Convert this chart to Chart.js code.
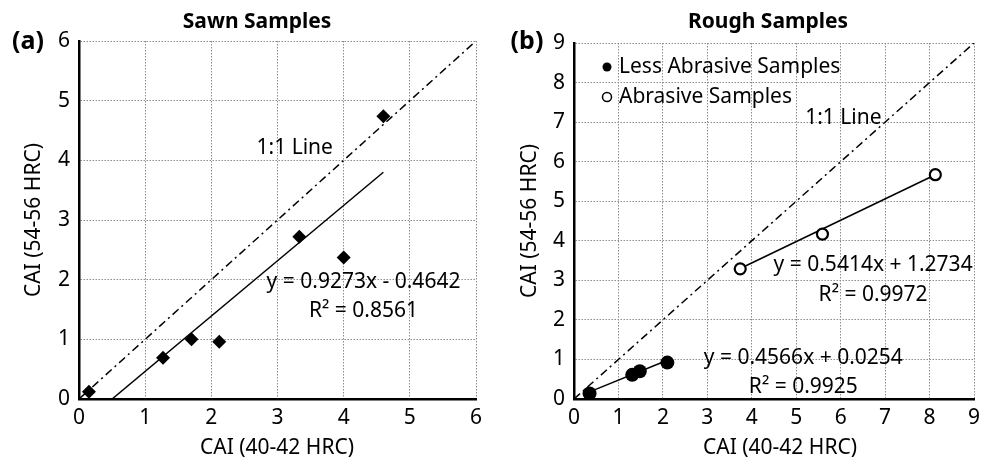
<!DOCTYPE html>
<html>
<head>
<meta charset="utf-8">
<script src="https://cdn.jsdelivr.net/npm/chart.js@4.4.0/dist/chart.umd.min.js"></script>
<style>
  html, body { margin: 0; padding: 0; background: #fff; }
  .wrap { display: flex; width: 990px; height: 461px; }
  .box { position: relative; width: 495px; height: 461px; }
</style>
</head>
<body>
<div class="wrap">
  <div class="box"><canvas id="sawnChart"></canvas></div>
  <div class="box"><canvas id="roughChart"></canvas></div>
</div>
<script>
// (a) sawn samples
const sawnX = [0.15, 1.27, 1.70, 2.12, 3.33, 4.00, 4.60];
const sawnY = [0.12, 0.69, 1.00, 0.96, 2.72, 2.37, 4.74];
const sawnFitX = [0.50, 4.60];
const sawnFitY = [0.00, 3.80];
const sawnDiag = [0, 6];

// (b) rough samples
const lessX = [0.35, 1.31, 1.48, 2.10];
const lessY = [0.14, 0.61, 0.70, 0.92];
const lessFitX = [0.35, 2.10];
const lessFitY = [0.18, 0.98];
const abrX = [3.74, 5.59, 8.13];
const abrY = [3.29, 4.17, 5.67];
const abrFitX = [3.74, 8.13];
const abrFitY = [3.30, 5.67];
const roughDiag = [0, 9];

// axis ranges
const sawnRange = [0, 6];
const roughRange = [0, 9];

const FONT = '"Noto Sans", "Open Sans", sans-serif';
const toPts = (xs, ys) => xs.map((v, i) => ({ x: v, y: ys[i] }));

// 텍스트/주석 그리기
const textPlugin = {
    id: 'textPlugin',
    afterDraw(chart, args, opts) {
        const ctx = chart.ctx;
        const sx = chart.scales.x, sy = chart.scales.y;
        const area = chart.chartArea;
        ctx.save();
        ctx.fillStyle = '#000';
        ctx.textAlign = 'center';
        ctx.textBaseline = 'middle';

        ctx.font = 'bold 21px ' + FONT;
        ctx.fillText(opts.title, opts.titleX, 22);
        ctx.font = 'bold 25px ' + FONT;
        ctx.fillText(opts.tag, opts.tagX, 42);

        ctx.font = '21px ' + FONT;
        ctx.fillText('CAI (40-42 HRC)', opts.xTitleX, 448);
        ctx.save();
        ctx.translate(opts.yTitleX, (area.top + area.bottom) / 2);
        ctx.rotate(-Math.PI / 2);
        ctx.fillText('CAI (54-56 HRC)', 0, 0);
        ctx.restore();

        opts.notes.forEach(n => {
            ctx.fillText(n.text, sx.getPixelForValue(n.x), sy.getPixelForValue(n.y));
        });

        if (opts.legend) {
            ctx.textAlign = 'left';
            opts.legend.forEach((item, i) => {
                const y = 67 + i * 30;
                ctx.beginPath();
                ctx.arc(112, y, 4.5, 0, Math.PI * 2);
                if (item.filled) {
                    ctx.fill();
                } else {
                    ctx.lineWidth = 1.5;
                    ctx.strokeStyle = '#000';
                    ctx.stroke();
                }
                ctx.fillText(item.text, 124, y);
            });
        }
        ctx.restore();
    }
};

function axis(range, isY) {
    return {
        type: 'linear',
        min: range[0],
        max: range[1],
        afterFit: (scale) => {
            if (isY) scale.width = 79; else scale.height = 62;
        },
        ticks: {
            stepSize: 1,
            color: '#000',
            font: { family: FONT, size: 21 },
            padding: isY ? 9 : 6,
        },
        grid: {
            color: '#8c8c8c',
            lineWidth: 1,
            drawTicks: false,
        },
        border: {
            display: true,
            color: '#000',
            width: 2.5,
            dash: [1.5, 1.5],
        },
    };
}

function lineSet(xs, ys, dash) {
    return {
        data: toPts(xs, ys),
        showLine: true,
        borderColor: '#000',
        borderWidth: 1.5,
        borderDash: dash || [],
        pointRadius: 0,
        fill: false,
    };
}

function renderChart(canvasId, datasets, range, padRight, padTop, textOpts) {
    new Chart(document.getElementById(canvasId), {
        type: 'scatter',
        data: { datasets: datasets },
        options: {
            responsive: true,
            maintainAspectRatio: false,
            animation: false,
            layout: { padding: { top: padTop, right: padRight, left: 0, bottom: 0 } },
            scales: { x: axis(range, false), y: axis(range, true) },
            plugins: {
                legend: { display: false },
                tooltip: { enabled: false },
                textPlugin: textOpts,
            },
        },
        plugins: [textPlugin],
    });
}

renderChart('sawnChart', [
    {
        data: toPts(sawnX, sawnY),
        pointStyle: 'rectRot',
        pointRadius: 7,
        backgroundColor: '#000',
        borderColor: '#000',
        borderWidth: 0,
    },
    lineSet(sawnFitX, sawnFitY),
    lineSet(sawnDiag, sawnDiag, [8, 4, 2, 4]),
], sawnRange, 19, 41, {
    title: 'Sawn Samples', titleX: 257,
    tag: '(a)', tagX: 28,
    xTitleX: 277, yTitleX: 34,
    notes: [
        { text: '1:1 Line', x: 3.26, y: 4.2 },
        { text: 'y = 0.9273x - 0.4642', x: 4.3, y: 1.96 },
        { text: 'R² = 0.8561', x: 4.3, y: 1.47 },
    ],
});

renderChart('roughChart', [
    {
        data: toPts(lessX, lessY),
        pointStyle: 'circle',
        pointRadius: 7,
        backgroundColor: '#000',
        borderColor: '#000',
        borderWidth: 0,
    },
    {
        data: toPts(abrX, abrY),
        pointStyle: 'circle',
        pointRadius: 5.5,
        backgroundColor: '#fff',
        borderColor: '#000',
        borderWidth: 2.2,
    },
    lineSet(lessFitX, lessFitY),
    lineSet(abrFitX, abrFitY),
    lineSet(roughDiag, roughDiag, [8, 4, 2, 4]),
], roughRange, 16, 43, {
    title: 'Rough Samples', titleX: 273,
    tag: '(b)', tagX: 32,
    xTitleX: 285, yTitleX: 35,
    notes: [
        { text: '1:1 Line', x: 6.06, y: 7.1 },
        { text: 'y = 0.5414x + 1.2734', x: 6.73, y: 3.38 },
        { text: 'R² = 0.9972', x: 6.73, y: 2.63 },
        { text: 'y = 0.4566x + 0.0254', x: 5.16, y: 1.04 },
        { text: 'R² = 0.9925', x: 5.16, y: 0.3 },
    ],
    legend: [
        { text: 'Less Abrasive Samples', filled: true },
        { text: 'Abrasive Samples', filled: false },
    ],
});
</script>
</body>
</html>
